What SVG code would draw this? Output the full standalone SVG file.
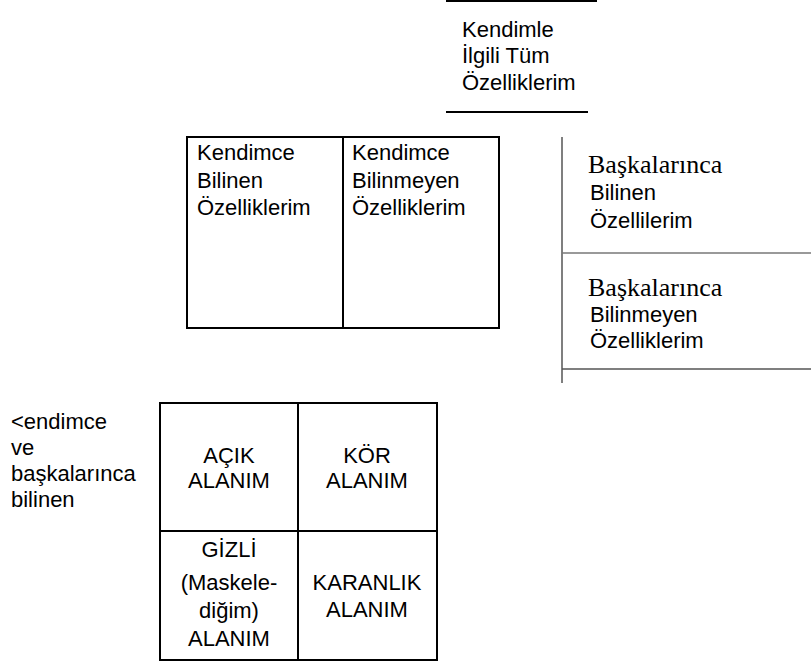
<svg xmlns="http://www.w3.org/2000/svg" width="811" height="664" viewBox="0 0 811 664">
<style>
.t{font-family:"Liberation Sans",Arial,sans-serif;font-size:22px;fill:#000}
.s{font-family:"Liberation Serif","Times New Roman",serif;font-size:26px;fill:#000}
.c{text-anchor:middle}
.k{stroke:#000;stroke-width:2;fill:none}
.g{stroke:#555;stroke-width:1.5;fill:none}
.g2{stroke:#777;stroke-width:1.5;fill:none}
</style>
<rect width="811" height="664" fill="#fff"/>
<g id="top-node">
<line class="k" x1="446" y1="1" x2="597" y2="1"/>
<line class="k" x1="446" y1="112" x2="588" y2="112"/>
<text class="t" x="462" y="37">Kendimle</text>
<text class="t" x="462" y="63">İlgili Tüm</text>
<text class="t" x="462" y="90">Özelliklerim</text>
</g>
<g id="self-box">
<rect class="k" x="187" y="137" width="312" height="191"/>
<line class="k" x1="343" y1="137" x2="343" y2="328"/>
<text class="t" x="197" y="160">Kendimce</text>
<text class="t" x="197" y="188">Bilinen</text>
<text class="t" x="197" y="215">Özelliklerim</text>
<text class="t" x="352" y="160">Kendimce</text>
<text class="t" x="352" y="188">Bilinmeyen</text>
<text class="t" x="352" y="215">Özelliklerim</text>
</g>
<g id="others-panel">
<line class="g" x1="562" y1="137" x2="562" y2="383"/>
<line class="g2" x1="562" y1="253" x2="811" y2="253"/>
<line class="g" x1="562" y1="369" x2="811" y2="369"/>
<text class="s" x="588" y="173">Başkalarınca</text>
<text class="t" x="590" y="200">Bilinen</text>
<text class="t" x="590" y="228">Özellilerim</text>
<text class="s" x="588" y="296">Başkalarınca</text>
<text class="t" x="590" y="322">Bilinmeyen</text>
<text class="t" x="590" y="348">Özelliklerim</text>
</g>
<g id="side-label">
<text class="t" x="11" y="429">&lt;endimce</text>
<text class="t" x="11" y="455">ve</text>
<text class="t" x="11" y="481">başkalarınca</text>
<text class="t" x="11" y="507">bilinen</text>
</g>
<g id="window-grid">
<rect class="k" x="160" y="403" width="277" height="257"/>
<line class="k" x1="298" y1="403" x2="298" y2="660"/>
<line class="k" x1="160" y1="531" x2="437" y2="531"/>
</g>
<g id="open-area">
<text class="t c" x="229" y="463">AÇIK</text>
<text class="t c" x="229" y="488">ALANIM</text>
</g>
<g id="blind-area">
<text class="t c" x="367" y="463">KÖR</text>
<text class="t c" x="367" y="488">ALANIM</text>
</g>
<g id="hidden-area">
<text class="t c" x="229" y="557">GİZLİ</text>
<text class="t c" x="229" y="590">(Maskele-</text>
<text class="t c" x="229" y="618">diğim)</text>
<text class="t c" x="229" y="646">ALANIM</text>
</g>
<g id="dark-area">
<text class="t c" x="367" y="590">KARANLIK</text>
<text class="t c" x="367" y="617">ALANIM</text>
</g>
<g id="connectors"></g>
</svg>
